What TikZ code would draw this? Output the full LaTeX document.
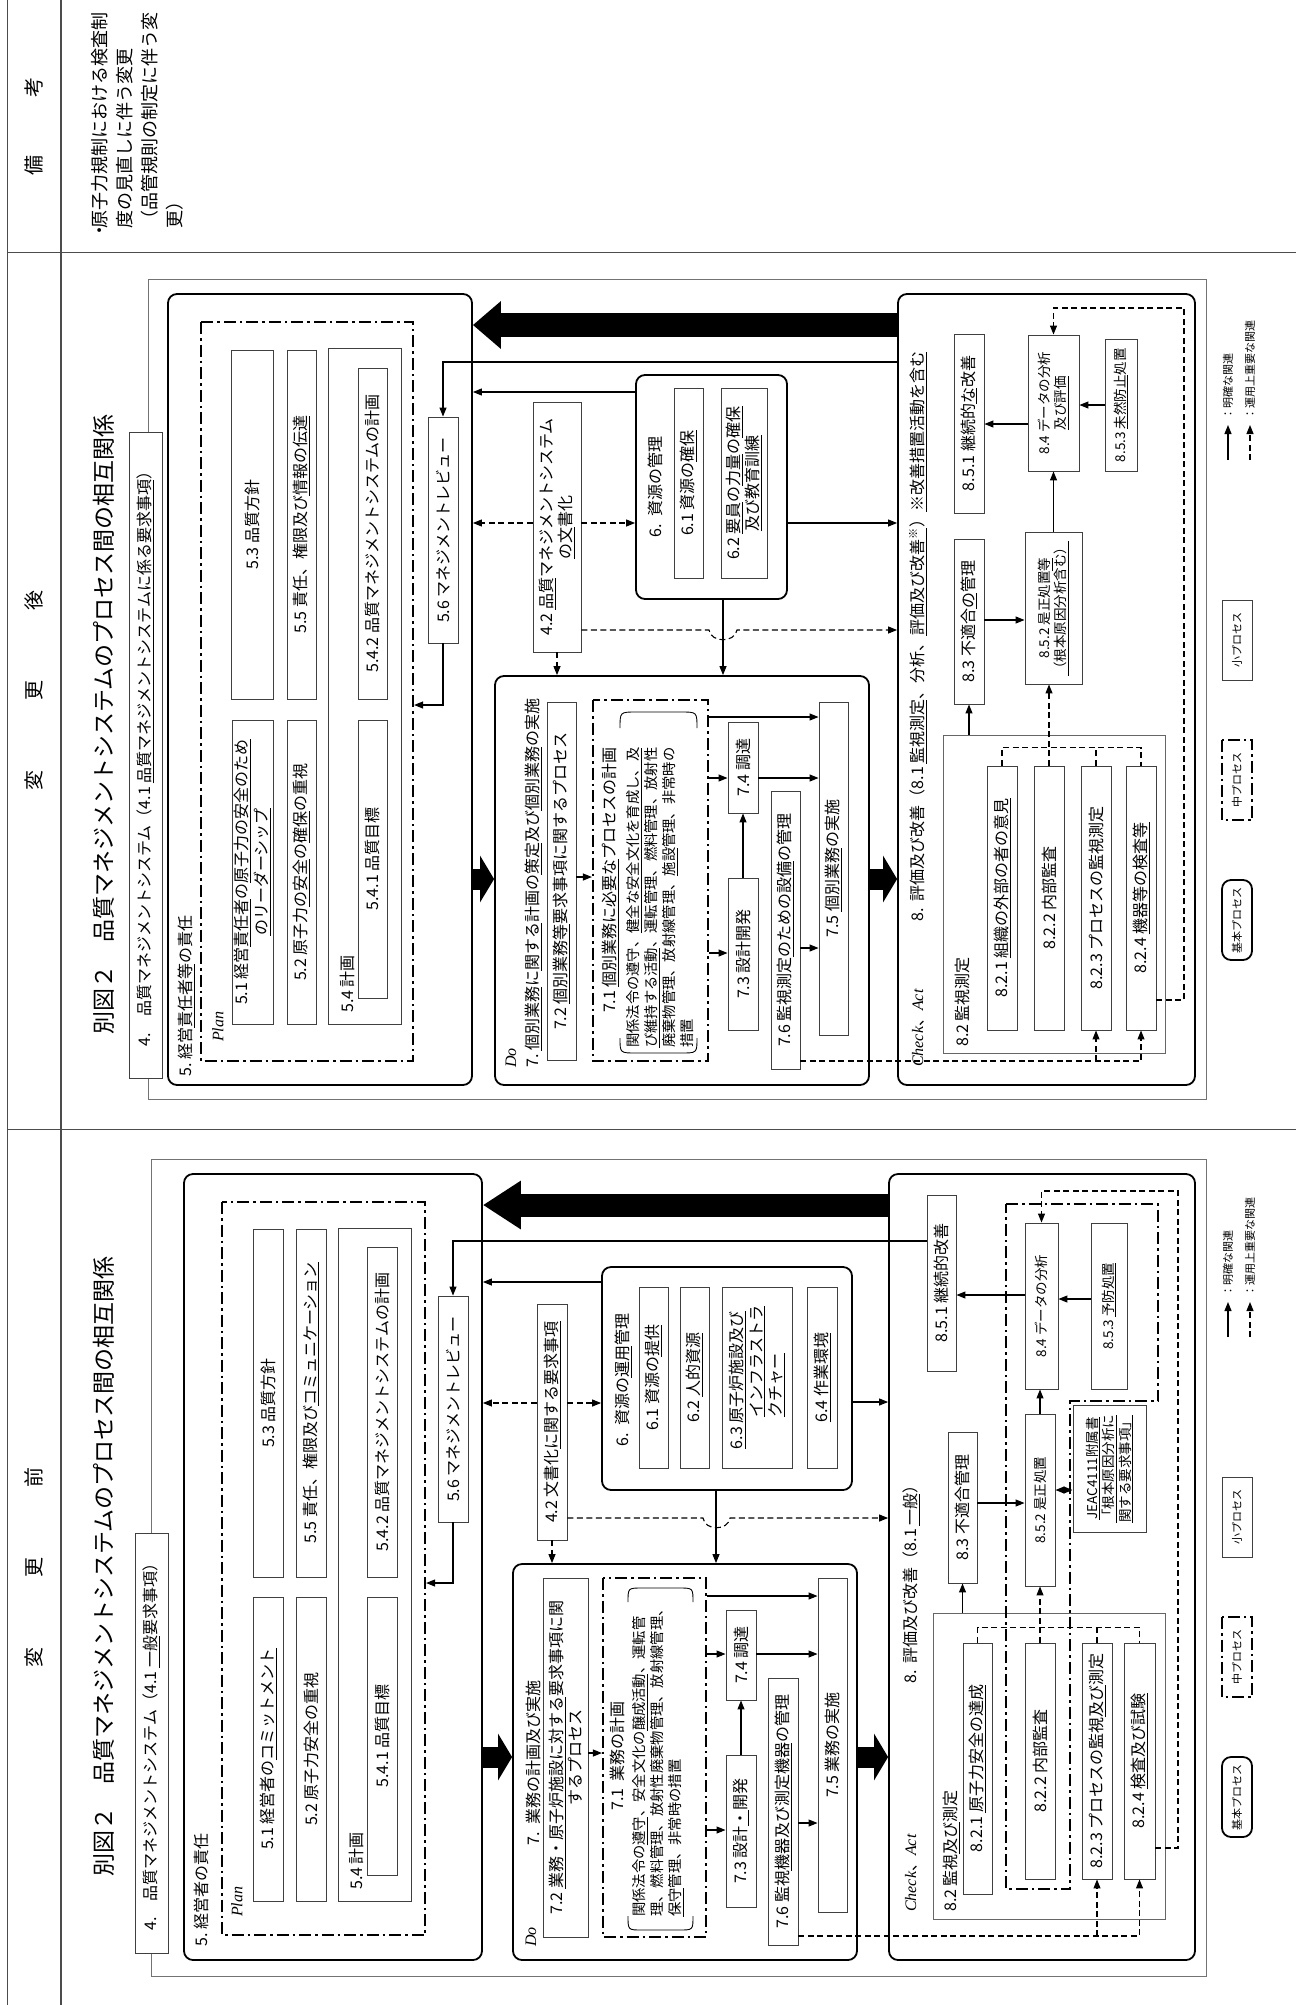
\documentclass[tikz,border=0pt]{standalone}
\usepackage{fontspec}
\setmainfont{Noto Sans CJK JP}
\newfontfamily\lat{Liberation Serif}
\usetikzlibrary{arrows.meta}
\newcommand\fs{\fontsize{16}{19.5}\selectfont}
\newcommand\fss{\fontsize{14.3}{17.7}\selectfont}
\newcommand\fsm{\fontsize{13.5}{16.5}\selectfont}
\newcommand\fst{\fontsize{23}{28}\selectfont}
\newcommand\fsh{\fontsize{20}{24}\selectfont}
\newcommand\fsb{\fontsize{18}{25}\selectfont}
\newcommand\fsl{\fontsize{11}{13}\selectfont}
\newcommand\fsi{\lat\itshape}
\newcommand\un[1]{\underline{#1}}
\newcommand\Bx[7][]{\node[bx,minimum width={(#6-#4)*1pt},minimum height={(#5-#3)*1pt},#1] (#2) at ({(#3+#5)/2},{(#4+#6)/2}) {#7};}
\tikzset{
 bx/.style={draw=black!75, line width=0.9pt, rotate=90, inner sep=1pt, font=\fs, align=center},
 big/.style={draw=black, line width=1.8pt, rounded corners=9pt},
 dd/.style={draw=black, line width=2.2pt, dash pattern=on 12pt off 4pt on 2.5pt off 4pt},
 frm/.style={draw=black!55, line width=0.8pt},
 lbl/.style={rotate=90, inner sep=0pt, font=\fs},
 tline/.style={draw=black!70, line width=1pt},
 arr/.style={line width=1.1pt, -{Triangle[length=9pt,width=7pt]}},
 dline/.style={line width=1.1pt, dash pattern=on 6pt off 3.5pt},
 darr/.style={dline, -{Triangle[length=9pt,width=7pt]}},
 bigA/.style={line width=24pt, -{Triangle[length=28pt,width=46pt]}},
 bigB/.style={line width=23pt, -{Triangle[length=38pt,width=46pt]}},
 bigS/.style={line width=21pt, -{Triangle[length=14pt,width=46pt]}},
 brk/.style={line width=0.9pt}
}
\begin{document}
\begin{tikzpicture}[x=1pt,y=-1pt]
\useasboundingbox (0,0) rectangle (1296,2005);
% table
\draw[tline] (7,0) -- (7,2005);
\draw[tline,line width=2pt] (61,0) -- (61,2005);
\draw[tline] (7,252) -- (1296,252);
\draw[tline] (7,1129) -- (1296,1129);
\node[lbl,font=\fsh] (Hrem) at (34,126) {備\hspace{2.9em}考};
\node[lbl,font=\fsh] (Haft) at (34,690) {変\hspace{3.5em}更\hspace{3.5em}後};
\node[lbl,font=\fsh] (Hbef) at (34,1567) {変\hspace{3.5em}更\hspace{3.5em}前};
\node[lbl,anchor=west,align=left,font=\fsb] (Rem) at (137,229) {\hspace*{-0.6em}・\hspace*{-0.4em}原子力規制における検査制\\度の見直しに伴う変更\\（品管規則の制定に伴う変\\更）};
\node[lbl,anchor=west,font=\fst] (Atitle) at (104,1035) {別図２\quad 品質マネジメントシステムのプロセス間の相互関係};
\node[lbl,anchor=west,font=\fst] (Btitle) at (104,1877) {別図２\quad 品質マネジメントシステムのプロセス間の相互関係};

% ================= AFTER =================
\Bx[frm]{Afr}{148}{279}{1206}{1099}{}
\Bx[fill=white]{Alab}{129}{432}{162}{1078}{4.\quad 品質マネジメントシステム（4.1~\un{品質マネジメントシステムに係る要求事項}）}
\Bx[big]{Aplan}{168}{294}{472}{1085}{}
\Bx[dd]{Add5}{201}{322}{413}{1061}{}
\node[lbl,anchor=west] (Aplant) at (186,1077) {5.~経営\un{責任者等}の責任};
\node[lbl,anchor=west,font={\fs\fsi}] (Aplanl) at (218,1042) {Plan};
\Bx{A53}{231}{350}{273}{699}{5.3~品質方針}
\Bx{A55}{287}{350}{316}{699}{5.5~責任、権限及び\un{情報の伝達}}
\Bx{A54}{328}{348}{401}{1024}{}
\node[lbl,anchor=west] (A54t) at (347,1013) {5.4~計画};
\Bx{A542}{358}{368}{387}{699}{5.4.2~品質マネジメントシステムの計画}
\Bx{A541}{358}{720}{387}{998}{5.4.1~品質目標}
\Bx{A51}{232}{720}{273}{1024}{5.1~経営\un{責任者}の\un{原子力の安全のため}\\\un{のリーダーシップ}}
\Bx{A52}{287}{720}{316}{1024}{5.2~原子力\un{の安全}の\un{確保}の重視}
\Bx{A56}{428}{417}{458}{643}{5.6~マネジメントレビュー}
\Bx{A42}{533}{402}{581}{652}{4.2~\un{品質}マネジメントシステム\\\un{の文}書化}
\Bx[big]{A6}{636}{375}{787}{599}{}
\node[lbl] (A6t) at (655,487) {6.~~資源の管理};
\Bx{A61}{674}{388}{703}{578}{6.1~資源の\un{確保}}
\Bx{A62}{721}{388}{767}{578}{6.2~\un{要員}の\un{力量}の\un{確保}\\\un{及び教育訓練}}
% Do
\Bx[big]{Ado}{495}{676}{869}{1085}{}
\node[lbl,anchor=west,font={\fs\fsi}] (Adol) at (511,1068) {Do};
\node[lbl,anchor=west] (Adot) at (533,1068) {7.~\un{個別業務}に\un{関する}計画の\un{策定}及び\un{個別業務}の実施};
\Bx{A72}{547}{702}{576}{1060}{7.2~\un{個別業務等}要求事項に関するプロセス}
\Bx[dd]{Add7}{593}{700}{708}{1061}{}
\node[lbl] (A71t) at (610,880) {7.1~\un{個別業務に必要な}プロセスの計画};
\node[lbl,anchor=west,align=left,font=\fss] (A71b) at (660,1048) {関係法令の遵守、\un{健全な安全文化を育成し、及}\\\un{び維持する活動}、運転管理、燃料管理、放射性\\廃棄物管理、放射線管理、\un{施設}管理、非常時の\\措置};
\draw[brk] (620,728) .. controls (620,712) .. (636,712) -- (681,712) .. controls (697,712) .. (697,728);
\draw[brk] (620,1038) .. controls (620,1053) .. (636,1053) -- (681,1053) .. controls (697,1053) .. (697,1038);
\Bx{A73}{728}{878}{758}{1030}{7.3~設計開発}
\Bx{A74}{728}{722}{758}{813}{7.4~調達}
\Bx{A75}{819}{702}{848}{1035}{7.5~\un{個別業務}の実施}
\Bx{A76}{771}{791}{800}{1069}{7.6~監視測定\un{のための設備}の管理}
% Check
\Bx[big]{Achk}{898}{294}{1195}{1085}{}
\node[lbl,anchor=west] (Achkl) at (918,1067) {{\fsi Check}、{\fsi Act}};
\node[lbl,anchor=west] (Achkt) at (918,922) {8.~~評価及び改善（8.1~\un{監視測定}、分析、\un{評価及び改善\textsuperscript{※}}）\un{※改善措置活動を含む}};
\Bx{A851}{954}{334}{984}{513}{8.5.1~継続的\un{な}改善}
\Bx{A83}{954}{539}{984}{704}{8.3~不適合\un{の}管理}
\Bx[draw=black!60]{A82}{943}{735}{1165}{1053}{}
\node[lbl,anchor=west] (A82t) at (962,1047) {8.2~監視測定};
\Bx{A821}{987}{766}{1017}{1030}{8.2.1~\un{組織の外部の者の意見}}
\Bx{A822}{1034}{766}{1064}{1030}{8.2.2~内部監査}
\Bx{A823}{1081}{766}{1111}{1030}{8.2.3~プロセスの監視測定}
\Bx{A824}{1126}{766}{1156}{1030}{8.2.4~\un{機器等の検査等}}
\Bx[font=\fsm]{A852}{1025}{532}{1082}{684}{8.5.2~是正処置\un{等}\\\un{（根本原因分析含む）}}
\Bx[font=\fsm]{A84}{1028}{335}{1079}{471}{8.4~データの分析\\\un{及び評価}}
\Bx[font=\fsm]{A853}{1105}{339}{1137}{471}{8.5.3~\un{未然防止}処置}
% legend after
\Bx[big,font=\fsl]{AL1}{1222}{880}{1252}{960}{基本プロセス}
\Bx[dd,line width=1.6pt,font=\fsl]{AL2}{1222}{740}{1252}{820}{中プロセス}
\Bx[font=\fsl]{AL3}{1222}{600}{1252}{680}{小プロセス}
\coordinate (AL4a) at (1228,460); \coordinate (AL4b) at (1228,425);
\coordinate (AL5a) at (1250,460); \coordinate (AL5b) at (1250,425);
\draw[arr] (AL4a) -- (AL4b);
\draw[darr] (AL5a) -- (AL5b);
\node[lbl,anchor=west,font=\fsl] (AL4t) at (1228,420) {：明確な関連};
\node[lbl,anchor=west,font=\fsl] (AL5t) at (1250,420) {：運用上重要な関連};
% arrows after
\draw[bigA] (Achk.north |- 0,325) -- (Aplan.south |- 0,325);
\draw[arr] (Achk.north |- 0,362) -| (A56.east);
\draw[arr] (A6.north |- 0,392) -- (Aplan.south |- 0,392);
\draw[darr] (A42.north |- 0,523) -- (Aplan.south |- 0,523);
\draw[darr] (A42.south |- 0,523) -- (A6.north |- 0,523);
\draw[arr] (A6.south |- 0,523) -- (Achk.north |- 0,523);
\draw[arr] (A56.west) |- (Add5.south |- 0,705);
\draw[bigS] (Aplan.south |- 0,879) -- (Ado.north |- 0,879);
\draw[bigS] (Ado.south |- 0,879) -- (Achk.north |- 0,879);
\draw[darr] (A42.west) -- (A42.west |- Ado.east);
\draw[arr] (A6.west -| 723,0) -- (Ado.east -| 723,0);
\draw[darr] (A42.south |- 0,630) -- (709,630) .. controls (711,643) and (735,643) .. (737,630) -- (Achk.north |- 0,630);
\draw[arr] (A72.south |- 0,877) -- (Add7.north |- 0,877);
\draw[arr] (Add7.south |- 0,717) -- (A75.north |- 0,717);
\draw[arr] (Add7.south |- 0,778) -- (A74.north |- 0,778);
\draw[arr] (Add7.south |- 0,953) -- (A73.north |- 0,953);
\draw[arr] (A74.south |- 0,778) -- (A75.north |- 0,778);
\draw[arr] (A73.east) -- (A74.west);
\draw[arr] (A76.south |- 0,948) -- (A75.north |- 0,948);
\draw[darr] (A76.south |- 0,1061) -| (A824.west);
\draw[darr] (A823.west |- 0,1061) -- (A823.west);
\draw[arr] (A83.west |- A82.east) -- (A83.west);
\draw[arr] (A83.south |- 0,620) -- (A852.north |- 0,620);
\draw[arr] (A852.east) -- (A852.east |- A84.west);
\draw[arr] (A84.north |- 0,424) -- (A851.south |- 0,424);
\draw[arr] (A853.north |- 0,405) -- (A84.south |- 0,405);
\draw[dline] (A821.east) -- ++(0,-18) -| (A824.east);
\draw[dline] (A823.east) -- ++(0,-18);
\draw[darr] (A822.east) -- (A822.east |- A852.west);
\draw[darr] (A824.south |- 0,1000) -- (1184,1000) |- (A84.east |- 0,308) -- (A84.east);

% ================= BEFORE =================
\Bx[frm]{Bfr}{151}{1159}{1206}{1976}{}
\Bx[fill=white]{Blab}{135}{1533}{168}{1953}{4.\quad 品質マネジメントシステム（4.1~\un{一般}要求事項）}
\Bx[big]{Bplan}{184}{1174}{482}{1960}{}
\Bx[dd]{Bdd5}{222}{1202}{425}{1935}{}
\node[lbl,anchor=west] (Bplant) at (201,1947) {5.~経営者の責任};
\node[lbl,anchor=west,font={\fs\fsi}] (Bplanl) at (237,1917) {Plan};
\Bx{B53}{253}{1229}{283}{1577}{5.3~品質方針}
\Bx{B55}{296}{1229}{326}{1577}{5.5~責任、権限及び\un{コミュニケーション}}
\Bx{B54}{338}{1228}{411}{1901}{}
\node[lbl,anchor=west] (B54t) at (356,1890) {5.4~計画};
\Bx{B542}{367}{1247}{397}{1577}{5.4.2~品質マネジメントシステムの計画}
\Bx{B541}{367}{1597}{397}{1875}{5.4.1~品質目標}
\Bx{B51}{253}{1597}{283}{1901}{5.1~経営者の\un{コミットメント}}
\Bx{B52}{296}{1597}{326}{1901}{5.2~原子力安全の重視}
\Bx{B56}{438}{1296}{468}{1522}{5.6~マネジメントレビュー}
\Bx{B42}{537}{1304}{567}{1540}{4.2~文書化\un{に関する要求事項}}
\Bx[big]{B6}{602}{1267}{852}{1490}{}
\node[lbl] (B6t) at (623,1380) {6.~~資源の\un{運用}管理};
\Bx{B61}{639}{1287}{668}{1468}{6.1~資源の\un{提供}}
\Bx{B62}{680}{1287}{709}{1468}{6.2~\un{人的資源}}
\Bx[align=left]{B63}{722}{1287}{792}{1468}{\un{6.3~原子炉施設及び}\\\hspace*{2em}\un{インフラストラ}\\\hspace*{2em}\un{クチャー}}
\Bx{B64}{807}{1287}{837}{1468}{\un{6.4~作業環境}}
% Do
\Bx[big]{Bdo}{513}{1564}{857}{1960}{}
\node[lbl,anchor=west,font={\fs\fsi}] (Bdol) at (531,1947) {Do};
\node[lbl] (Bdot) at (533,1763) {7.~~業務の計画及び実施};
\Bx{B72}{543}{1578}{588}{1937}{7.2~\un{業務・原子炉施設に対する}要求事項に関\\するプロセス}
\Bx[dd]{Bdd7}{603}{1578}{706}{1937}{}
\node[lbl] (B71t) at (617,1756) {7.1~~業務の計画};
\node[lbl,anchor=west,align=left,font=\fss] (B71b) at (658,1917) {関係法令の\un{遵守}、安全文化の\un{醸成活動}、運転管\\理、燃料管理、放射性廃棄物管理、放射線管理、\\\un{保守}管理、非常時の措置};
\draw[brk] (628,1602) .. controls (628,1588) .. (642,1588) -- (679,1588) .. controls (693,1588) .. (693,1602);
\draw[brk] (628,1916) .. controls (628,1930) .. (642,1930) -- (679,1930) .. controls (693,1930) .. (693,1916);
\Bx{B73}{726}{1755}{756}{1907}{7.3~設計\un{・}開発}
\Bx{B74}{726}{1610}{756}{1700}{7.4~調達}
\Bx{B75}{818}{1578}{847}{1912}{7.5~業務の実施}
\Bx{B76}{768}{1678}{798}{1945}{7.6~監視\un{機器及び測定機器}の管理}
% Check
\Bx[big]{Bchk}{889}{1174}{1195}{1960}{}
\node[lbl,anchor=west] (Bchkl) at (911,1912) {{\fsi Check}、{\fsi Act}};
\node[lbl,anchor=west] (Bchkt) at (911,1684) {8.~~評価及び改善（8.1~\un{一般}）};
\Bx{B851}{927}{1195}{956}{1371}{8.5.1~継続的改善}
\Bx{B83}{948}{1432}{977}{1583}{8.3~不適合管理}
\Bx[draw=black!60]{B82}{933}{1613}{1165}{1919}{}
\node[lbl,anchor=west] (B82t) at (951,1912) {8.2~監視\un{及び}測定};
\Bx{B821}{963}{1643}{992}{1894}{8.2.1~\un{原子力安全の達成}}
\Bx{B822}{1025}{1643}{1055}{1879}{8.2.2~内部監査}
\Bx{B823}{1082}{1643}{1112}{1879}{8.2.3~プロセスの監視\un{及び}測定}
\Bx{B824}{1124}{1643}{1155}{1879}{8.2.4~\un{検査及び試験}}
\Bx[font=\fsm]{B852}{1025}{1414}{1055}{1586}{8.5.2~是正処置}
\Bx[font=\fsm]{B84}{1025}{1223}{1058}{1389}{8.4~データの分析}
\Bx[font=\fsm]{B853}{1091}{1223}{1127}{1389}{8.5.3~\un{予防処置}}
\Bx[font=\fsm]{BJ}{1073}{1405}{1146}{1532}{\un{JEAC4111附属書}\\\un{「根本原因分析に}\\\un{関する要求事項」}}
\draw[dd,line width=2pt] (1006,1204) -- (1158,1204) -- (1158,1401) -- (1070,1401) -- (1070,1889) -- (1006,1889) -- cycle;
% legend before
\Bx[big,font=\fsl]{BL1}{1222}{1757}{1252}{1837}{基本プロセス}
\Bx[dd,line width=1.6pt,font=\fsl]{BL2}{1222}{1617}{1252}{1697}{中プロセス}
\Bx[font=\fsl]{BL3}{1222}{1477}{1252}{1557}{小プロセス}
\coordinate (BL4a) at (1228,1337); \coordinate (BL4b) at (1228,1302);
\coordinate (BL5a) at (1250,1337); \coordinate (BL5b) at (1250,1302);
\draw[arr] (BL4a) -- (BL4b);
\draw[darr] (BL5a) -- (BL5b);
\node[lbl,anchor=west,font=\fsl] (BL4t) at (1228,1297) {：明確な関連};
\node[lbl,anchor=west,font=\fsl] (BL5t) at (1250,1297) {：運用上重要な関連};
% arrows before
\draw[bigB] (Bchk.north |- 0,1205) -- (Bplan.south |- 0,1205);
\draw[arr] (B851.north |- 0,1241) -| (B56.east);
\draw[arr] (B6.north |- 0,1282) -- (Bplan.south |- 0,1282);
\draw[darr] (B42.north |- 0,1403) -- (Bplan.south |- 0,1403);
\draw[darr] (B42.south |- 0,1403) -- (B6.north |- 0,1403);
\draw[arr] (B6.south |- 0,1402) -- (Bchk.north |- 0,1402);
\draw[arr] (B56.west) |- (Bdd5.south |- 0,1583);
\draw[bigS] (Bplan.south |- 0,1757) -- (Bdo.north |- 0,1757);
\draw[bigS] (Bdo.south |- 0,1757) -- (Bchk.north |- 0,1757);
\draw[darr] (B42.west) -- (B42.west |- Bdo.east);
\draw[arr] (B6.west -| 716,0) -- (Bdo.east -| 716,0);
\draw[darr] (B42.south |- 0,1518) -- (703,1518) .. controls (705,1531) and (728,1531) .. (730,1518) -- (Bchk.north |- 0,1518);
\draw[arr] (B72.south |- 0,1753) -- (Bdd7.north |- 0,1753);
\draw[arr] (Bdd7.south |- 0,1596) -- (B75.north |- 0,1596);
\draw[arr] (Bdd7.south |- 0,1654) -- (B74.north |- 0,1654);
\draw[arr] (Bdd7.south |- 0,1830) -- (B73.north |- 0,1830);
\draw[arr] (B74.south |- 0,1654) -- (B75.north |- 0,1654);
\draw[arr] (B73.east) -- (B74.west);
\draw[arr] (B76.south |- 0,1823) -- (B75.north |- 0,1823);
\draw[darr] (B76.south |- 0,1936) -| (B824.west);
\draw[darr] (B823.west |- 0,1936) -- (B823.west);
\draw[arr] (B83.west |- B82.east) -- (B83.west);
\draw[arr] (B83.south |- 0,1503) -- (B852.north |- 0,1503);
\draw[arr] (B852.east) -- (B852.east |- B84.west);
\draw[arr] (B84.north |- 0,1295) -- (B851.south |- 0,1295);
\draw[arr] (B853.north |- 0,1299) -- (B84.south |- 0,1299);
\draw[dline,{Triangle[length=9pt,width=7pt]}-{Triangle[length=9pt,width=7pt]}] (B852.south |- 0,1490) -- (BJ.north |- 0,1490);
\draw[dline] (B821.east) -- ++(0,-15) -| (B824.east);
\draw[dline] (B823.east) -- ++(0,-15);
\draw[darr] (B822.east) -- (B822.east |- B852.west);
\draw[darr] (B824.south |- 0,1848) -- (1178,1848) |- (B84.east |- 0,1191) -- (B84.east);
\end{tikzpicture}
\end{document}
